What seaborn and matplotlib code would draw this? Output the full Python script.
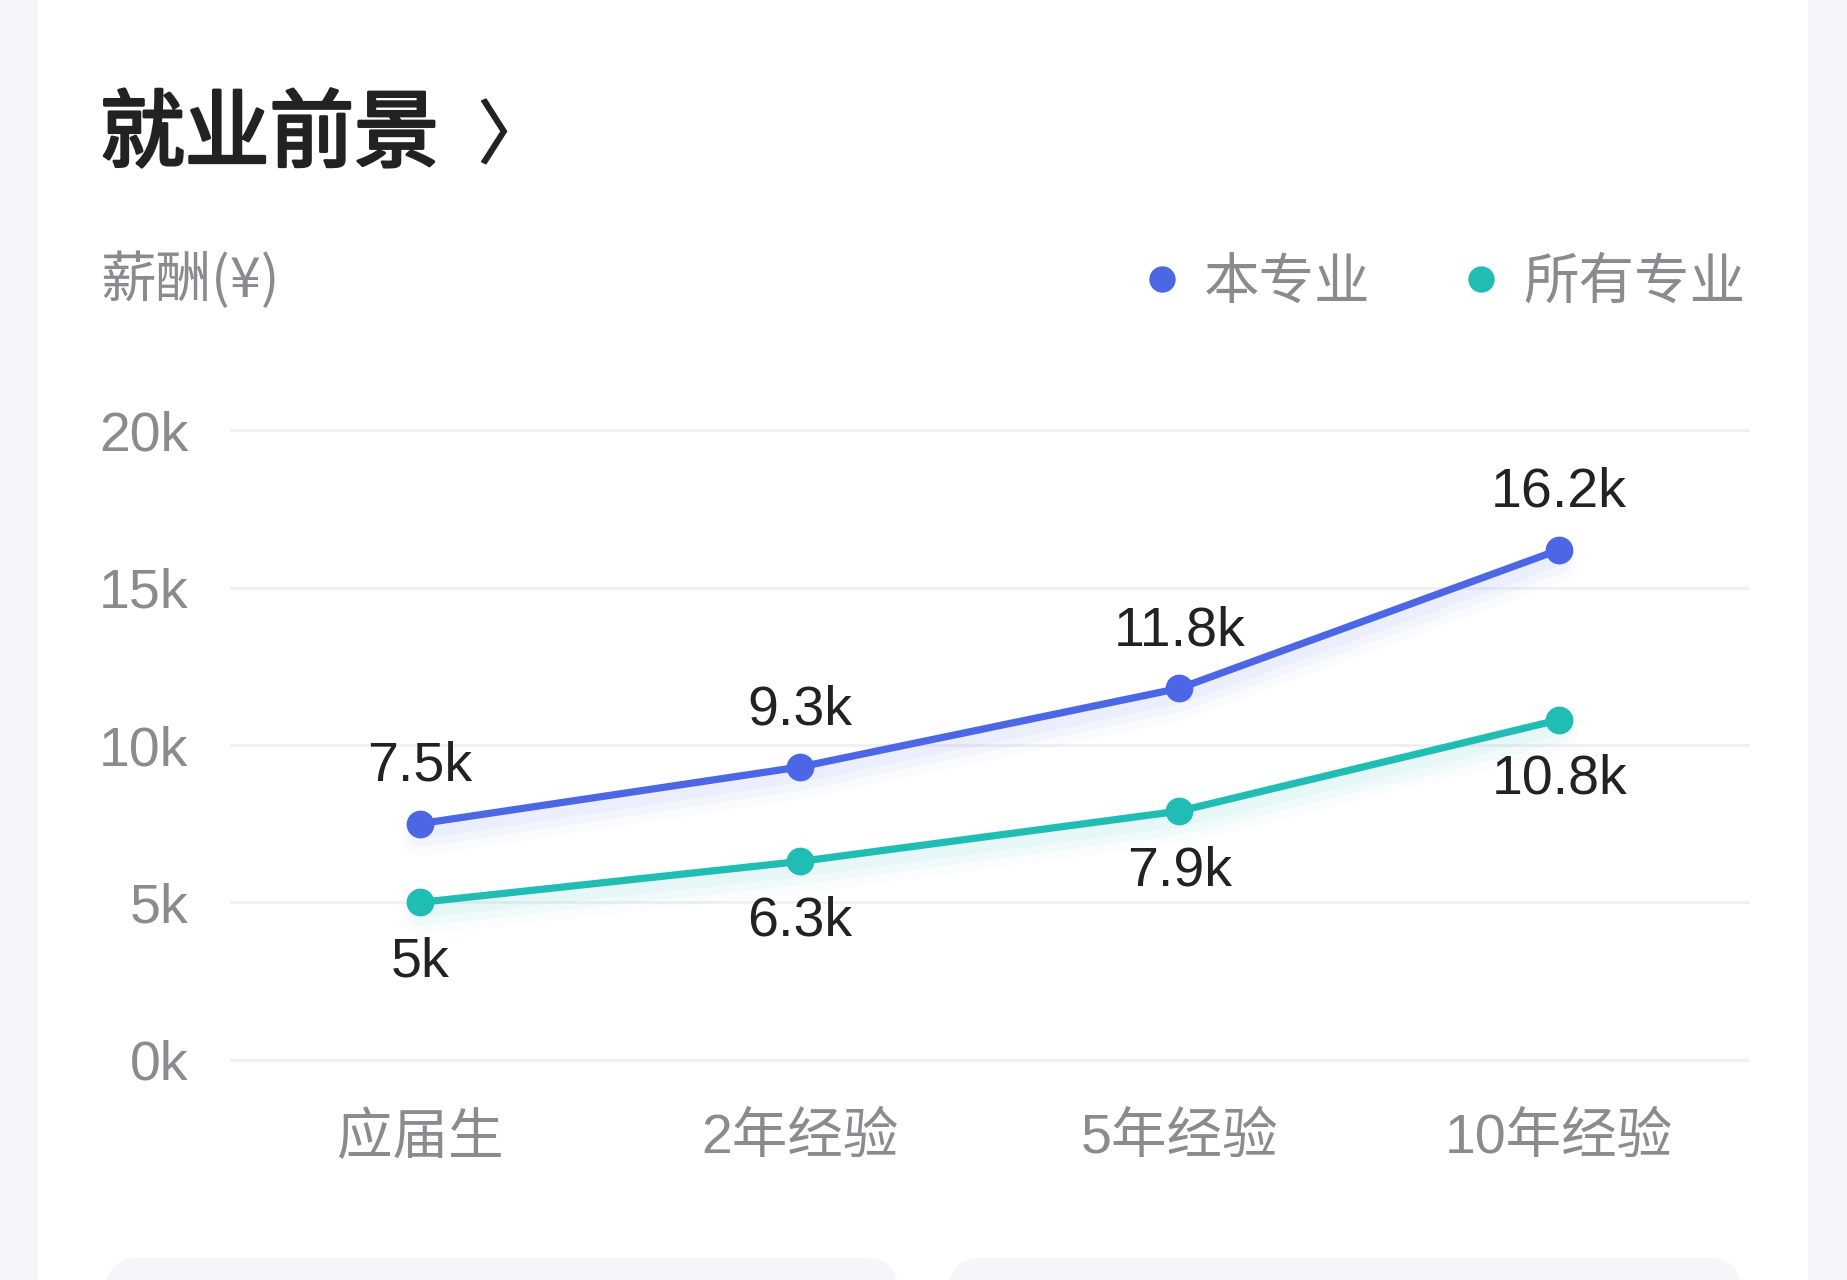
import matplotlib
matplotlib.use("Agg")
import matplotlib.pyplot as plt
import matplotlib.patheffects as pe
import matplotlib.transforms as mtransforms
from matplotlib.patches import Rectangle, FancyBboxPatch
from matplotlib.lines import Line2D
import seaborn as sns
import pandas as pd

# ---- data ----
stages = ["应届生", "2年经验", "5年经验", "10年经验"]
this_major = [7.5, 9.3, 11.8, 16.2]
all_majors = [5.0, 6.3, 7.9, 10.8]
series_names = ["本专业", "所有专业"]
this_labels = ["7.5k", "9.3k", "11.8k", "16.2k"]
all_labels = ["5k", "6.3k", "7.9k", "10.8k"]
y_ticks = [0, 5, 10, 15, 20]
y_tick_labels = ["0k", "5k", "10k", "15k", "20k"]
title = "就业前景"
y_title = "薪酬(¥)"

BLUE = "#4B67E6"
TEAL = "#20BDB5"
BG = "#F4F6FA"
GREY = "#8A8A8F"
DARK = "#222222"

sns.set_theme(style="white")
plt.rcParams["font.family"] = ["Liberation Sans", "Noto Sans CJK SC", "DejaVu Sans"]

df = pd.DataFrame({
    "阶段": stages * 2,
    "薪酬": this_major + all_majors,
    "类别": [series_names[0]] * 4 + [series_names[1]] * 4,
})

W, H = 1847, 1280
fig = plt.figure(figsize=(W / 100, H / 100), dpi=100)
fig.patch.set_facecolor(BG)

# white card
fig.patches.append(Rectangle((38 / W, 0), (1808 - 38) / W, 1.0, transform=fig.transFigure,
                             facecolor="white", edgecolor="none", zorder=-3))
# bottom rounded boxes
for x0, x1 in [(106, 898), (948, 1741)]:
    fig.patches.append(FancyBboxPatch((x0 / W, -0.05), (x1 - x0) / W, (1280 - 1258) / H + 0.05,
                                      boxstyle="round,pad=0,rounding_size=0.018",
                                      transform=fig.transFigure, facecolor=BG,
                                      edgecolor="none", zorder=-2, mutation_aspect=W / H))

ax = fig.add_axes([230 / W, 217 / H, (1749 - 230) / W, 636 / H])
ax.set_facecolor("none")

# soft glow beneath the lines
for lw, dy, a in [(26, -14, 0.025), (18, -11, 0.035), (11, -8, 0.045)]:
    n0 = len(ax.get_lines())
    sns.lineplot(data=df, x="阶段", y="薪酬", hue="类别", palette=[BLUE, TEAL],
                 linewidth=lw, alpha=a, sort=False, ax=ax, legend=False, zorder=2)
    off = mtransforms.ScaledTranslation(0, dy / 100, fig.dpi_scale_trans)
    for ln in ax.get_lines()[n0:]:
        ln.set_transform(ax.transData + off)
        ln.set_solid_capstyle("round")

n0 = len(ax.get_lines())
sns.lineplot(data=df, x="阶段", y="薪酬", hue="类别", palette=[BLUE, TEAL],
             marker="o", markersize=20, markeredgewidth=0, linewidth=5.2,
             sort=False, ax=ax, legend=False, zorder=5)

ax.set_xlim(-0.5, 3.5)
ax.set_ylim(-0.1, 20.1)
ax.set_yticks(y_ticks)
ax.set_yticklabels(y_tick_labels)
ax.set_xticks(range(len(stages)))
ax.set_xticklabels(stages)
ax.set_xlabel("")
ax.set_ylabel("")
ax.grid(axis="y", color="#F0F0F3", linewidth=2)
ax.grid(axis="x", visible=False)
for s in ax.spines.values():
    s.set_visible(False)
ax.tick_params(axis="y", length=0, pad=30, labelsize=40, labelcolor=GREY)
ax.tick_params(axis="x", length=0, pad=36, labelsize=40, labelcolor=GREY)

for i, (v, lab) in enumerate(zip(this_major, this_labels)):
    ax.annotate(lab, (i, v), xytext=(0, 57), textcoords="offset pixels",
                ha="center", va="center", fontsize=40, color=DARK, zorder=6)
for i, (v, lab) in enumerate(zip(all_majors, all_labels)):
    ax.annotate(lab, (i, v), xytext=(0, -60), textcoords="offset pixels",
                ha="center", va="center", fontsize=40, color=DARK, zorder=6)

# title and chevron
fig.text(100 / W, 1 - 136 / H, title, fontsize=61, color=DARK,
         va="center", ha="left", family=["Noto Sans CJK SC"],
         path_effects=[pe.withStroke(linewidth=2.2, foreground=DARK)])
fig.text(478 / W, 1 - 138 / H, "〉", fontsize=50, color=DARK,
         va="center", ha="left", family=["Noto Sans CJK SC"],
         path_effects=[pe.withStroke(linewidth=1.0, foreground=DARK)])

# y axis title
fig.text(100 / W, 1 - 281 / H, y_title, fontsize=40, color=GREY, va="center", ha="left",
         family=["Noto Sans CJK SC", "Liberation Sans"])

# legend
handles = [Line2D([], [], marker="o", linestyle="", markersize=19, color=c, markeredgewidth=0)
           for c in (BLUE, TEAL)]
leg = fig.legend(handles, series_names, loc="center right", bbox_to_anchor=(1745 / W, 1 - 283 / H),
                 ncol=2, frameon=False, fontsize=40, handlelength=0.8, handletextpad=0.35,
                 columnspacing=1.6, borderpad=0, borderaxespad=0)
for t in leg.get_texts():
    t.set_color(GREY)
    t.set_family(["Noto Sans CJK SC"])

fig.savefig("out.png", dpi=100, facecolor=fig.get_facecolor())
